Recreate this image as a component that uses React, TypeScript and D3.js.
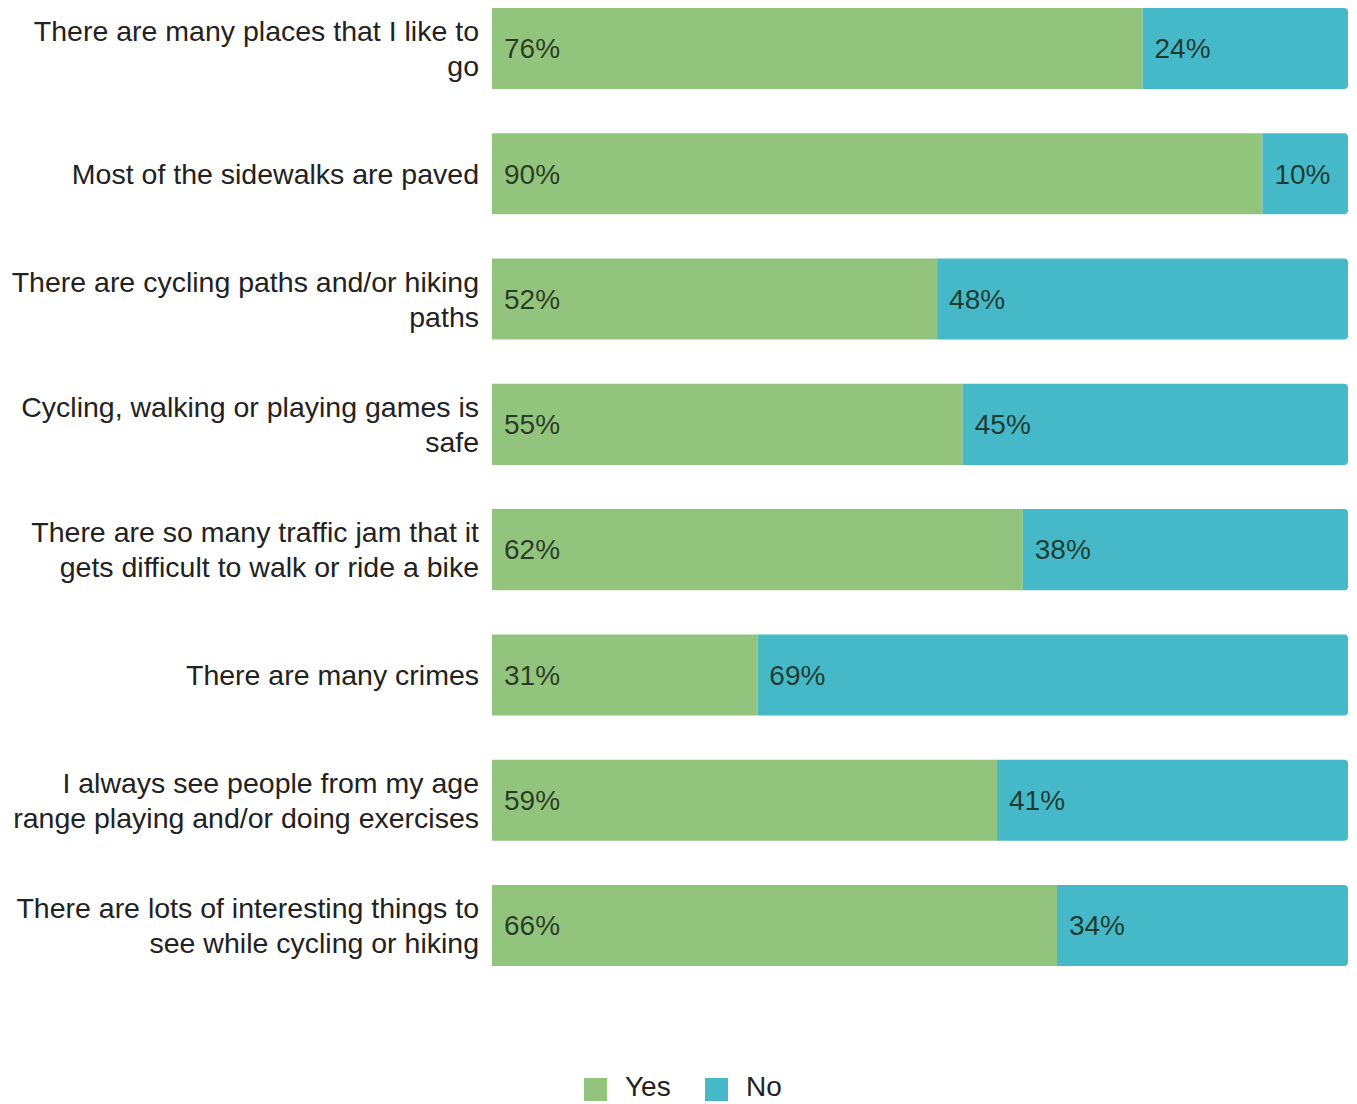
import React from "react";
import * as d3 from "d3";

const categories: string[][] = [
  ["There are many places that I like to", "go"],
  ["Most of the sidewalks are paved"],
  ["There are cycling paths and/or hiking", "paths"],
  ["Cycling, walking or playing games is", "safe"],
  ["There are so many traffic jam that it", "gets difficult to walk or ride a bike"],
  ["There are many crimes"],
  ["I always see people from my age", "range playing and/or doing exercises"],
  ["There are lots of interesting things to", "see while cycling or hiking"],
];
const yesValues = [76, 90, 52, 55, 62, 31, 59, 66];
const noValues = [24, 10, 48, 45, 38, 69, 41, 34];
const seriesNames = ["Yes", "No"];
const colors = ["#93c47d", "#45b9c8"];

const W = 1357;
const H = 1104;
const left = 492;
const right = 1348;
const top = 8;
const bottom = 966;
const font = "Liberation Sans, Arial, sans-serif";

export default function App() {
  const x = d3.scaleLinear().domain([0, 100]).range([left, right]);
  const y = d3
    .scaleBand<number>()
    .domain(d3.range(categories.length))
    .range([top, bottom])
    .paddingInner(0.353)
    .paddingOuter(0);
  const stack = d3
    .stack<number>()
    .keys(["0", "1"])
    .value((i, k) => (k === "0" ? yesValues[i] : noValues[i]));
  const series = stack(d3.range(categories.length));
  const bw = y.bandwidth();
  const lineH = 35;

  return (
    <svg
      width={W}
      height={H}
      style={{ position: "absolute", left: 0, top: 0, background: "#fff" }}
      fontFamily={font}
    >
      {series.map((s, si) => (
        <g key={si}>
          {s.map((d, i) => {
            const x0 = x(d[0]);
            const x1 = x(d[1]);
            const yy = y(i)!;
            const last = si === series.length - 1;
            const r = 4;
            const path = last
              ? `M${x0},${yy}H${x1 - r}Q${x1},${yy} ${x1},${yy + r}V${yy + bw - r}Q${x1},${yy + bw} ${x1 - r},${yy + bw}H${x0}Z`
              : `M${x0},${yy}H${x1}V${yy + bw}H${x0}Z`;
            const val = si === 0 ? yesValues[i] : noValues[i];
            return (
              <g key={i}>
                <path d={path} fill={colors[si]} />
                <text
                  x={x0 + 12}
                  y={yy + bw / 2}
                  dy="0.35em"
                  fontSize={28}
                  fill="#1a2a1a"
                  fillOpacity={0.88}
                >
                  {val}%
                </text>
              </g>
            );
          })}
        </g>
      ))}
      {categories.map((lines, i) => {
        const cy = y(i)! + bw / 2;
        const start = cy - ((lines.length - 1) * lineH) / 2;
        return (
          <text key={i} textAnchor="end" fontSize={28.5} fill="#222">
            {lines.map((ln, j) => (
              <tspan key={j} x={479} y={start + j * lineH} dy="0.35em">
                {ln}
              </tspan>
            ))}
          </text>
        );
      })}
      <g>
        {seriesNames.map((n, i) => {
          const lx = [584, 705][i];
          return (
            <g key={n}>
              <rect x={lx} y={1078} width={23} height={23} fill={colors[i]} />
              <text x={lx + 41} y={1086} dy="0.35em" fontSize={28} fill="#222">
                {n}
              </text>
            </g>
          );
        })}
      </g>
    </svg>
  );
}
